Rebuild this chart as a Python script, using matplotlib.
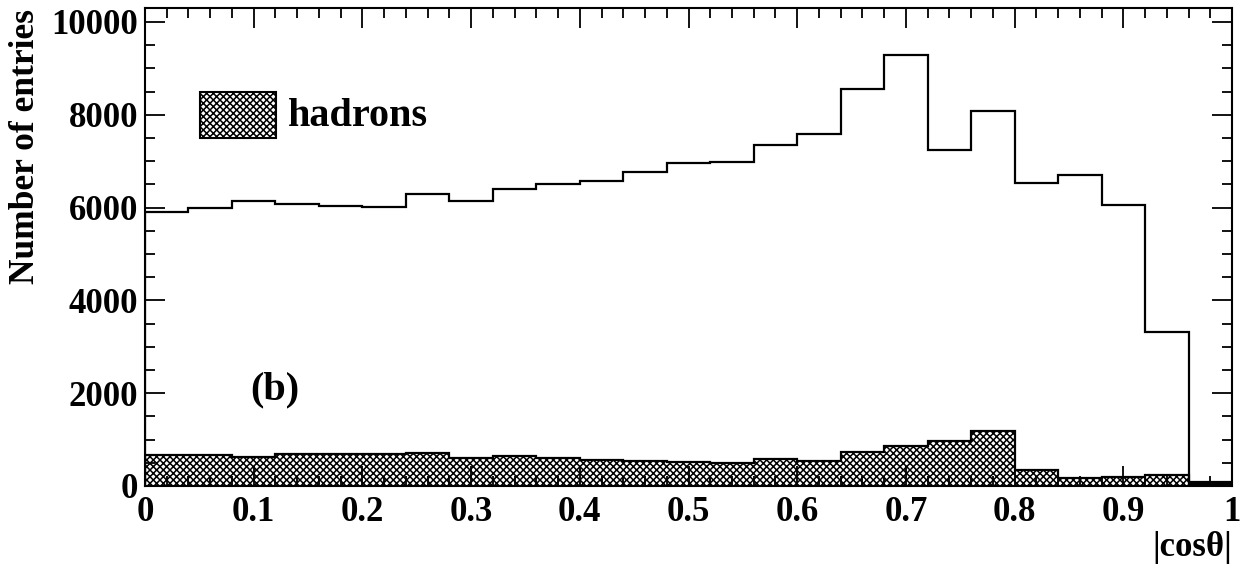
import numpy as np
import matplotlib
matplotlib.use("Agg")
import matplotlib.pyplot as plt
from matplotlib.patches import Rectangle
from matplotlib.ticker import MultipleLocator

# ---- data ----
bin_edges = np.linspace(0.0, 1.0, 26)
all_counts = [5910, 5995, 6135, 6075, 6035, 6020, 6300, 6135, 6390, 6500,
              6580, 6760, 6950, 6990, 7345, 7590, 8560, 9280, 7245, 8085,
              6520, 6710, 6055, 3315, 80]
hadron_counts = [676, 670, 633, 680, 685, 690, 712, 604, 640, 597,
                 554, 540, 525, 503, 575, 546, 733, 870, 970, 1179,
                 352, 172, 201, 230, 50]
xticks = [0, 0.1, 0.2, 0.3, 0.4, 0.5, 0.6, 0.7, 0.8, 0.9, 1]
xtick_labels = ["0", "0.1", "0.2", "0.3", "0.4", "0.5", "0.6", "0.7", "0.8", "0.9", "1"]
yticks = [0, 2000, 4000, 6000, 8000, 10000]
ytick_labels = ["0", "2000", "4000", "6000", "8000", "10000"]

plt.rcParams['font.family'] = ['Liberation Serif', 'DejaVu Serif']
plt.rcParams['font.weight'] = 'bold'
plt.rcParams['hatch.linewidth'] = 1.1
plt.rcParams['hatch.color'] = 'black'

W, H = 1245, 569
fig = plt.figure(figsize=(W / 100, H / 100), dpi=100)
ax = fig.add_axes([145 / W, 1 - 486 / H, (1232 - 145) / W, (486 - 8) / H])

# hatched hadron histogram
ax.stairs(hadron_counts, bin_edges, fill=True, facecolor='white',
          edgecolor='black', hatch='xxxxx', linewidth=0)
ax.stairs(hadron_counts, bin_edges, color='black', linewidth=1.6)
# open histogram
ax.stairs(all_counts, bin_edges, color='black', linewidth=1.6)

ax.set_xlim(0, 1)
ax.set_ylim(0, 10300)

ax.set_xticks(xticks)
ax.set_xticklabels(xtick_labels)
ax.set_yticks(yticks)
ax.set_yticklabels(ytick_labels)
ax.xaxis.set_minor_locator(MultipleLocator(0.02))
ax.yaxis.set_minor_locator(MultipleLocator(500))

ax.tick_params(which='both', direction='in', top=True, right=True, width=1.3)
ax.tick_params(which='major', length=14.5)
ax.tick_params(which='minor', length=7.2)
ax.tick_params(axis='x', which='major', labelsize=25, pad=7)
ax.tick_params(axis='y', which='major', labelsize=25, pad=5)
for lab in ax.get_xticklabels() + ax.get_yticklabels():
    lab.set_fontweight('bold')
for s in ax.spines.values():
    s.set_linewidth(1.5)

# legend
ax.add_patch(Rectangle(((200 - 145) / 1087, (486 - 138) / 478), 76 / 1087, 46 / 478,
                       transform=ax.transAxes, facecolor='white', edgecolor='black',
                       hatch='xxxxx', linewidth=1.5, zorder=5))
fig.text(288 / W, 1 - 117 / H, "hadrons", fontsize=29, fontweight='bold',
         ha='left', va='center')
fig.text(250 / W, 1 - 390 / H, "(b)", fontsize=29, fontweight='bold',
         ha='left', va='center')

# axis titles
fig.text(26 / W, 1 - 9 / H, "Number of entries", fontsize=25.5, fontweight='bold',
         rotation=90, ha='center', va='top')
fig.text(1232 / W, 1 - 548 / H, "|cosθ|", fontsize=25, fontweight='bold',
         ha='right', va='center')

fig.savefig("out.png", dpi=100)
